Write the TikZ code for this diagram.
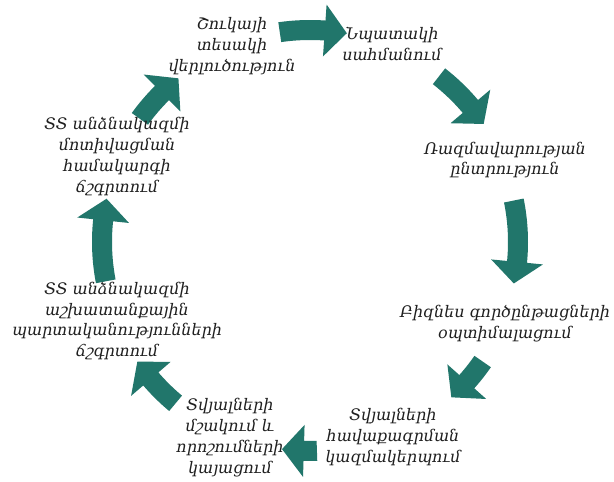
\documentclass[tikz,border=0pt]{standalone}
\usepackage{fontspec}
\setmainfont{DejaVu Serif}
\begin{document}
\begin{tikzpicture}[x=1bp,y=1bp,
  lbl/.style={align=center,text=black!88,font=\fontsize{16}{21}\selectfont\itshape,inner sep=0pt},
  cyclefill/.style={fill=cycleteal}]
\definecolor{cycleteal}{HTML}{21766B}
\fill[white] (0,0) rectangle (614,482);
\useasboundingbox (0,0) rectangle (614,482);
% curved block arrow on the cycle: tail angle, tip angle, radius
\newcommand{\cyclearrow}[3]{%
  \pgfmathsetmacro\hb{#2+6}%
  \pgfmathsetmacro\ro{#3+10}%
  \pgfmathsetmacro\ri{#3-10}%
  \pgfmathsetmacro\wo{#3+26}%
  \pgfmathsetmacro\wi{#3-26}%
  \fill[cyclefill] (#1:\ro bp) arc[start angle=#1, end angle=\hb, radius=\ro bp]
    -- (\hb:\wo bp) -- (#2:#3bp) -- (\hb:\wi bp) -- (\hb:\ri bp)
    arc[start angle=\hb, end angle=#1, radius=\ri bp] -- cycle;}
\begin{scope}[shift={(310,240)}]
  \cyclearrow{98.2}{80}{212}
  \cyclearrow{52.1}{34.2}{210}
  \cyclearrow{11.5}{-11.5}{208}
  \cyclearrow{-34.7}{-47.7}{210}
  \cyclearrow{-88.1}{-97.7}{209}
  \cyclearrow{-129.8}{-145.3}{210}
  \cyclearrow{190.9}{168}{208}
  \cyclearrow{144.1}{128.8}{210}
\end{scope}
\node[lbl] (t1) at (232,436) {Շուկայի\\տեսակի\\վերլուծություն};
\node[lbl] (t2) at (392,438) {Նպատակի\\սահմանում};
\node[lbl] (t3) at (505,322) {Ռազմավարության\\ընտրություն};
\node[lbl] (t4) at (505,158) {Բիզնես գործընթացների\\օպտիմալացում};
\node[lbl] (t5) at (393,45) {Տվյալների\\հավաքագրման\\կազմակերպում};
\node[lbl] (t6) at (230,44.5) {Տվյալների\\մշակում և\\որոշումների\\կայացում};
\node[lbl] (t7) at (117,161) {ՏՏ անձնակազմի\\աշխատանքային\\պարտականությունների\\ճշգրտում};
\node[lbl] (t8) at (117,325.5) {ՏՏ անձնակազմի\\մոտիվացման\\համակարգի\\ճշգրտում};
\end{tikzpicture}
\end{document}
